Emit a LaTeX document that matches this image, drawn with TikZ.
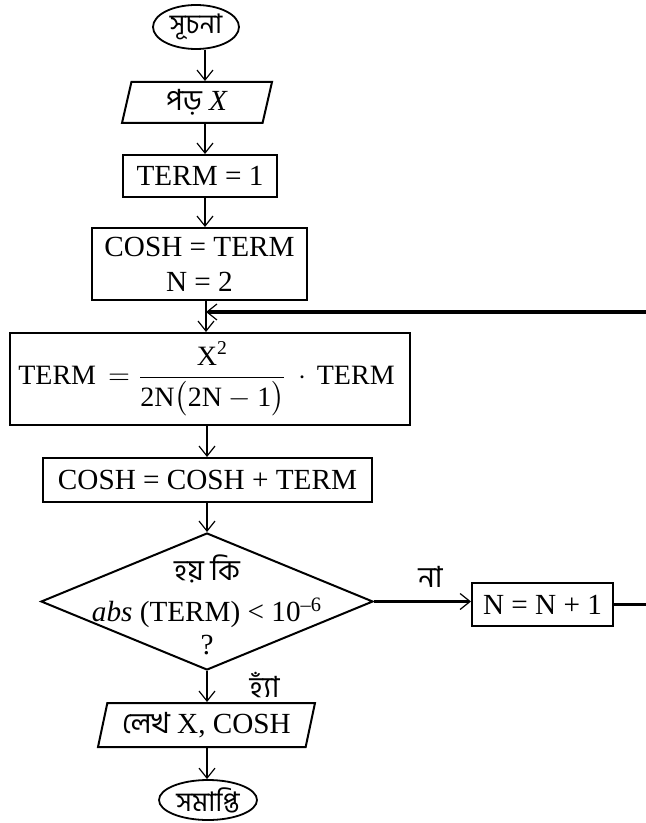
\documentclass[tikz,border=0pt]{standalone}
\usepackage{amsmath}
\usepackage{fontspec}
\setmainfont{Liberation Serif}
\newfontfamily\bn[Script=Bengali]{Hind Siliguri}
\usetikzlibrary{shapes.geometric,arrows.meta}

\begin{document}
\begin{tikzpicture}[
    x=0.5pt, y=-0.5pt,
    every node/.style={font=\fontsize{14.6}{17.5}\selectfont, align=center, inner sep=0pt},
    termnode/.style={draw, ellipse, line width=0.9pt, font=\bn\fontsize{13.5}{16}\selectfont},
    ionode/.style={draw, trapezium, trapezium left angle=70, trapezium right angle=110, trapezium stretches body, line width=1pt},
    procnode/.style={draw, rectangle, line width=1pt},
    decnode/.style={draw, diamond, line width=1pt},
    arr/.style={-{Straight Barb[length=5pt,width=8pt,line width=0.6pt]}, line width=0.6pt},
    loopline/.style={line width=1.6pt}
]
    \useasboundingbox (0,0) rectangle (646,823);
    \clip (0,0) rectangle (646,823);

    % Start and input
    \node[termnode, minimum width=43pt, minimum height=22pt] (start) at (196,27) {সূচনা};
    \node[ionode, minimum width=75pt, minimum height=20.5pt] (read) at (197,102.5) {{\bn পড়} \textit{X}};

    % Initial values
    \node[procnode, minimum width=77pt, minimum height=21pt] (term1) at (200,176) {TERM = 1};
    \node[procnode, minimum width=107.5pt, minimum height=36pt] (cosh1) at (199.5,264) {COSH = TERM\\N = 2};

    % Series loop body
    \node[procnode, minimum width=200pt, minimum height=46pt, font=\fontsize{14}{17}\selectfont] (formula) at (210,379) {
        TERM\hspace{6pt}$=\dfrac{\text{X}^{\text{2}}}{\text{2N}\bigl(\text{2N}-\text{1}\bigr)}$\hspace{6pt}$\cdot$\hspace{5pt}TERM
    };
    \node[procnode, minimum width=164.5pt, minimum height=22pt] (cosh2) at (207.5,480) {COSH = COSH + TERM};

    % Test
    \node[decnode, minimum width=166pt, minimum height=68.5pt] (dec) at (207,601.5) {};
    \node[font=\fontsize{14.6}{16.5}\selectfont] (dectext) at (207,605) {
        {\bn হয় কি}\\[4pt]
        \textit{abs} (TERM) < 10\textsuperscript{–6}\\
        ?
    };
    \node[procnode, minimum width=70.5pt, minimum height=21.5pt] (N1) at (542.5,604.5) {N = N + 1};

    % Output and end
    \node[ionode, minimum width=108.5pt, minimum height=22pt] (out) at (206.5,725) {{\bn লেখ} X, COSH};
    \node[termnode, minimum width=49pt, minimum height=20pt] (finish) at (208,800) {সমাপ্তি};

    \coordinate (axis) at (205,0);
    \coordinate (loopin) at (206,312);
    \coordinate (loopx) at (652,0);

    % Connectors
    \draw[arr] (start.south -| axis) -- (read.north -| axis);
    \draw[arr] (read.south -| axis) -- (term1.north -| axis);
    \draw[arr] (term1.south -| axis) -- (cosh1.north -| axis);
    \draw[arr] (cosh1.south -| loopin) -- (formula.north -| loopin);
    \draw[arr] (formula.south -| dec) -- (cosh2.north -| dec);
    \draw[arr] (cosh2.south -| dec) -- (dec.north);
    \draw[arr] (dec.south) -- (out.north -| dec)
        node[midway, right=21pt, yshift=1pt] (yes) {\bn হ্যাঁ};
    \draw[arr] (out.south -| dec) -- (finish.north -| dec);
    \draw[arr, line width=1.6pt] (dec.east) -- (dec.east -| N1.west)
        node[midway, above=6pt, xshift=4pt] (no) {\bn না};

    % Back to the loop
    \draw[loopline, -{Straight Barb[length=5pt,width=8pt,line width=0.6pt]}] (N1.east) -- (N1.east -| loopx) |- (loopin);
\end{tikzpicture}
\end{document}
